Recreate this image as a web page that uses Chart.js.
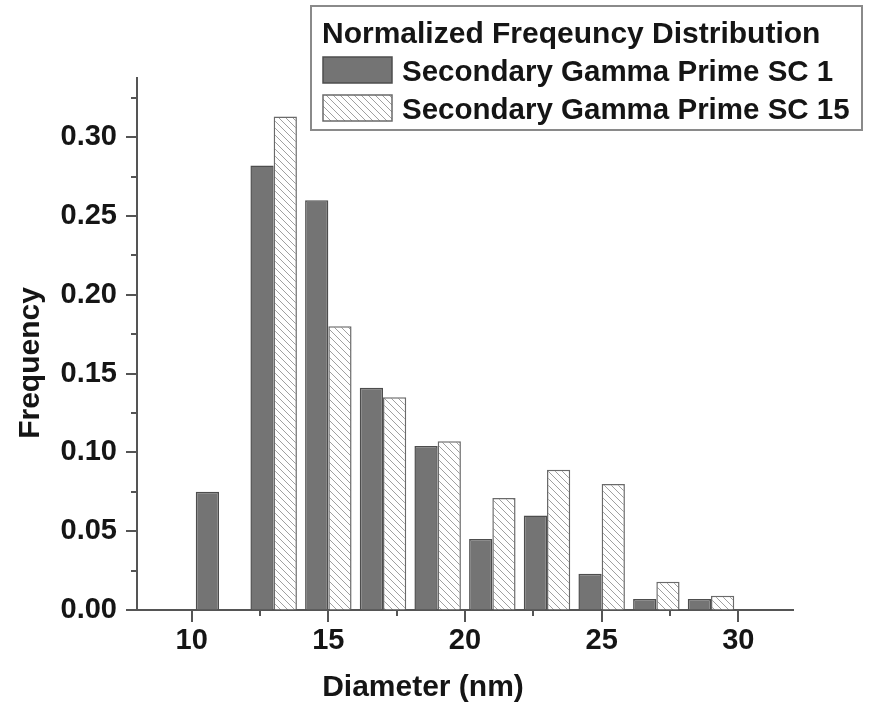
<!DOCTYPE html>
<html>
<head>
<meta charset="utf-8">
<title>Normalized Frequency Distribution</title>
<script src="https://cdn.jsdelivr.net/npm/chart.js@4.4.0/dist/chart.umd.min.js"></script>
<style>
    html, body { margin: 0; padding: 0; background: #fff; }
    #wrap { width: 872px; height: 702px; }
</style>
</head>
<body>
<div id="wrap"><canvas id="histChart" width="872" height="702"></canvas></div>
<script>
var binCenters = [11, 13, 15, 17, 19, 21, 23, 25, 27, 29];
var sc1Values  = [0.075, 0.282, 0.260, 0.141, 0.104, 0.045, 0.060, 0.023, 0.007, 0.007];
var sc15Values = [null, 0.313, 0.180, 0.135, 0.107, 0.071, 0.089, 0.080, 0.018, 0.009];
var seriesNames = ['Secondary Gamma Prime SC 1', 'Secondary Gamma Prime SC 15'];
var legendTitle = 'Normalized Freqeuncy Distribution';
var xTickValues = [10, 12.5, 15, 17.5, 20, 22.5, 25, 27.5, 30];
var yTickValues = [0, 0.025, 0.05, 0.075, 0.1, 0.125, 0.15, 0.175, 0.2, 0.225, 0.25, 0.275, 0.3, 0.325];
var xTitle = 'Diameter (nm)';
var yTitle = 'Frequency';

var FONT = '"Liberation Sans", Arial, sans-serif';
var TEXT = '#151515';
var AXIS = '#555555';

function isMajor(v, step) {
    var r = v / step;
    return Math.abs(r - Math.round(r)) < 1e-6;
}

// Patron rayado para la serie SC 15
function makeHatch() {
    var c = document.createElement('canvas');
    c.width = 7; c.height = 7;
    var g = c.getContext('2d');
    g.fillStyle = '#ffffff';
    g.fillRect(0, 0, 7, 7);
    g.strokeStyle = '#a0a0a0';
    g.lineWidth = 1;
    g.beginPath();
    g.moveTo(0, 0); g.lineTo(7, 7);
    g.moveTo(-1, 6); g.lineTo(1, 8);
    g.moveTo(6, -1); g.lineTo(8, 1);
    g.stroke();
    return g.createPattern(c, 'repeat');
}

// Marcas de los ejes (mayores largas, menores cortas)
var tickMarks = {
    id: 'tickMarks',
    afterDraw: function(chart) {
        var ctx = chart.ctx;
        var xs = chart.scales.x, ys = chart.scales.y;
        ctx.save();
        ctx.strokeStyle = AXIS;
        ctx.lineWidth = 2;
        ctx.beginPath();
        xs.ticks.forEach(function(t) {
            var px = Math.round(xs.getPixelForValue(t.value));
            var len = isMajor(t.value, 5) ? 12 : 6;
            ctx.moveTo(px, xs.top);
            ctx.lineTo(px, xs.top + len);
        });
        ys.ticks.forEach(function(t) {
            var py = Math.round(ys.getPixelForValue(t.value));
            var len = isMajor(t.value, 0.05) ? 11 : 6;
            ctx.moveTo(ys.right, py);
            ctx.lineTo(ys.right - len, py);
        });
        ctx.stroke();
        ctx.restore();
    }
};

// Titulos de los ejes
var axisTitles = {
    id: 'axisTitles',
    afterDraw: function(chart) {
        var ctx = chart.ctx;
        ctx.save();
        ctx.fillStyle = TEXT;
        ctx.font = 'bold 30px ' + FONT;
        ctx.textAlign = 'center';
        ctx.textBaseline = 'alphabetic';
        ctx.fillText(xTitle, 423, 696);
        ctx.translate(39, 363);
        ctx.rotate(-Math.PI / 2);
        ctx.fillText(yTitle, 0, 0);
        ctx.restore();
    }
};

// Leyenda con recuadro
var boxLegend = {
    id: 'boxLegend',
    afterDraw: function(chart) {
        var ctx = chart.ctx;
        ctx.save();
        ctx.fillStyle = '#ffffff';
        ctx.fillRect(311, 6, 551, 124);
        ctx.strokeStyle = '#8a8a8a';
        ctx.lineWidth = 2;
        ctx.strokeRect(311, 6, 551, 124);
        ctx.fillStyle = TEXT;
        ctx.textAlign = 'left';
        ctx.textBaseline = 'alphabetic';
        ctx.font = 'bold 30px ' + FONT;
        ctx.fillText(legendTitle, 322, 43);
        ctx.font = 'bold 29.5px ' + FONT;
        chart.data.datasets.forEach(function(ds, i) {
            var y = 57 + i * 38;
            ctx.fillStyle = ds.backgroundColor;
            ctx.fillRect(323, y, 69, 26);
            ctx.strokeStyle = ds.borderColor;
            ctx.lineWidth = 1.5;
            ctx.strokeRect(323, y, 69, 26);
            ctx.fillStyle = TEXT;
            ctx.fillText(ds.label, 402, y + 24);
        });
        ctx.restore();
    }
};

document.addEventListener('DOMContentLoaded', function() {
    var ctx = document.getElementById('histChart');

    new Chart(ctx, {
        type: 'bar',
        data: {
            datasets: [{
                label: seriesNames[0],
                data: binCenters.map(function(x, i) { return { x: x, y: sc1Values[i] }; }),
                backgroundColor: '#747474',
                borderColor: '#4d4d4d',
                borderWidth: 1.5
            }, {
                label: seriesNames[1],
                data: binCenters.map(function(x, i) { return { x: x, y: sc15Values[i] }; }),
                backgroundColor: makeHatch(),
                borderColor: '#6a6a6a',
                borderWidth: 1.5
            }]
        },
        options: {
            responsive: false,
            animation: false,
            categoryPercentage: 0.85,
            barPercentage: 1.0,
            layout: { padding: { top: 78, right: 79, left: 0, bottom: 0 } },
            plugins: {
                legend: { display: false },
                tooltip: { enabled: false }
            },
            scales: {
                x: {
                    type: 'linear',
                    min: 8,
                    max: 32,
                    offset: false,
                    grid: { display: true, drawOnChartArea: false, drawTicks: false },
                    border: { display: true, color: AXIS, width: 2 },
                    afterBuildTicks: function(s) {
                        s.ticks = xTickValues.map(function(v) { return { value: v }; });
                    },
                    afterFit: function(s) { s.height = 92; },
                    ticks: {
                        autoSkip: false,
                        maxRotation: 0,
                        padding: 14,
                        color: TEXT,
                        font: { family: FONT, size: 29, weight: 'bold' },
                        callback: function(v) { return isMajor(v, 5) ? String(v) : ''; }
                    }
                },
                y: {
                    min: 0,
                    max: 0.3375,
                    grid: { display: true, drawOnChartArea: false, drawTicks: false },
                    border: { display: true, color: AXIS, width: 2 },
                    afterBuildTicks: function(s) {
                        s.ticks = yTickValues.map(function(v) { return { value: v }; });
                    },
                    afterFit: function(s) { s.width = 137; },
                    ticks: {
                        autoSkip: false,
                        padding: 20,
                        color: TEXT,
                        font: { family: FONT, size: 29, weight: 'bold' },
                        callback: function(v) { return isMajor(v, 0.05) ? v.toFixed(2) : ''; }
                    }
                }
            }
        },
        plugins: [tickMarks, axisTitles, boxLegend]
    });
});
</script>
</body>
</html>
